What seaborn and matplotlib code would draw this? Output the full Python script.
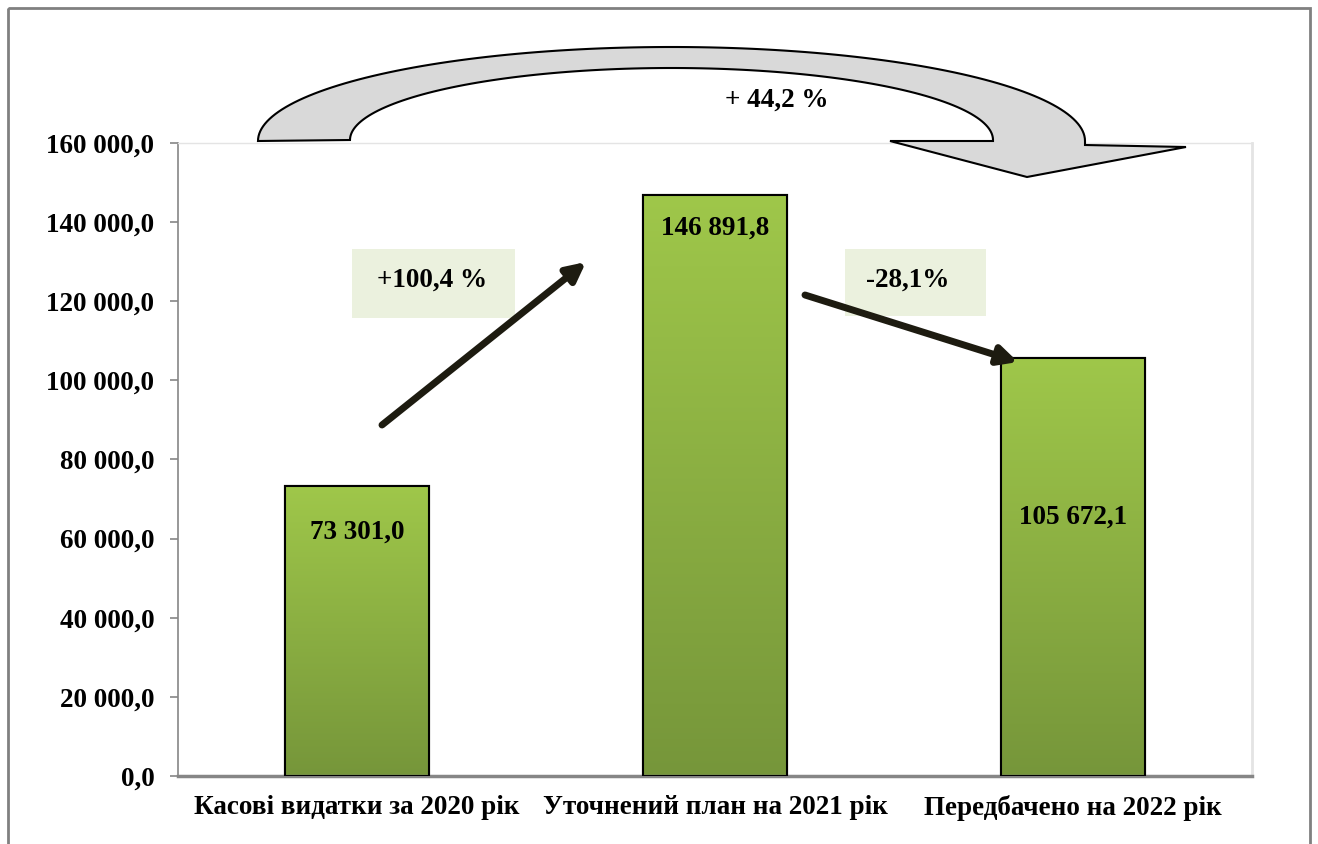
import numpy as np
import pandas as pd
import matplotlib
matplotlib.use("Agg")
import matplotlib.pyplot as plt
import seaborn as sns
from matplotlib.colors import LinearSegmentedColormap
from matplotlib.patches import Polygon, Rectangle

# data
categories = ["Касові видатки за 2020 рік", "Уточнений план на 2021 рік", "Передбачено на 2022 рік"]
values = [73301.0, 146891.8, 105672.1]
value_labels = ["73 301,0", "146 891,8", "105 672,1"]
yticks = [0, 20000, 40000, 60000, 80000, 100000, 120000, 140000, 160000]
change_labels = ["+100,4 %", "-28,1%"]
total_label = "+ 44,2 %"

# where the value labels sit inside the bars
label_pos = [61700, 138500, 65500]

sns.set_style("white")
plt.rcParams['font.family'] = ['Liberation Serif', 'DejaVu Serif']
plt.rcParams['font.weight'] = 'bold'
plt.rcParams['text.color'] = 'black'

df = pd.DataFrame({"cat": categories, "val": values})

fig = plt.figure(figsize=(13.18, 8.44), dpi=100)
ax = fig.add_axes([178/1318, 1-776/844, (1252-178)/1318, (776-143)/844])

sns.barplot(data=df, x="cat", y="val", width=0.4, color="#8db442",
            edgecolor="black", linewidth=1.5, ax=ax, zorder=2)

# gradient fill on the bars
cmap = LinearSegmentedColormap.from_list("g", ["#76963a", "#9fc74a"])
grad = np.linspace(0, 1, 256).reshape(-1, 1)
for p in ax.patches:
    x0, y0 = p.get_x(), p.get_y()
    w, h = p.get_width(), p.get_height()
    im = ax.imshow(grad, cmap=cmap, origin="lower", aspect="auto",
                   extent=[x0, x0 + w, y0, y0 + h], zorder=2.5)
    im.set_clip_path(p)
    edge = Rectangle((x0, y0), w, h, fill=False, edgecolor="black", lw=1.5, zorder=3)
    ax.add_patch(edge)

for i, (lab, ly) in enumerate(zip(value_labels, label_pos)):
    ax.text(i, ly, lab, ha="center", va="center", fontsize=19.5,
            fontweight="bold", color="black", zorder=4)

ax.set_xlim(-0.5, 2.5)
ax.set_ylim(0, 160000)
ax.set_yticks(yticks)
ax.set_yticklabels([f"{v:,.1f}".replace(",", " ").replace(".", ",") for v in yticks],
                   fontsize=19.5, fontweight="bold")
ax.set_xticks(range(3))
ax.set_xticklabels(categories, fontsize=19.5, fontweight="bold")
ax.set_xticks([-0.5, 0.5, 1.5, 2.5], minor=True)
ax.tick_params(axis="x", which="major", length=0, pad=14, labelcolor="black")
ax.tick_params(axis="x", which="minor", length=6, width=1.2, color="#868686")
ax.tick_params(axis="y", length=6, width=1.2, color="#868686", pad=11, left=True, labelcolor="black")
ax.set_xlabel("")
ax.set_ylabel("")
for s in ["left", "bottom"]:
    ax.spines[s].set_color("#868686")
ax.spines["left"].set_linewidth(1.2)
ax.spines["bottom"].set_linewidth(2.5)
for s in ["top", "right"]:
    ax.spines[s].set_color("#e4e4e4")
    ax.spines[s].set_linewidth(1)
ax.spines["right"].set_linewidth(2)

# overlay in pixel coordinates for the decorations
ov = fig.add_axes([0, 0, 1, 1], zorder=5)
ov.set_xlim(0, 1318)
ov.set_ylim(844, 0)
ov.axis("off")
ov.patch.set_alpha(0)

ov.add_patch(Rectangle((8, 8), 1302, 860, fill=False, edgecolor="#808080", lw=2, clip_on=False))

# boxes for the changes
ov.add_patch(Rectangle((352, 249), 163, 69, facecolor="#ebf1de", edgecolor="none"))
ov.add_patch(Rectangle((845, 249), 141, 67, facecolor="#ebf1de", edgecolor="none"))
ov.text(432, 280, change_labels[0], ha="center", va="center", fontsize=19.5, fontweight="bold")
ov.text(908, 280, change_labels[1], ha="center", va="center", fontsize=19.5, fontweight="bold")

# straight arrows
arrow_kw = dict(arrowstyle="-|>", lw=5, color="#1d1b10", mutation_scale=28, shrinkA=0, shrinkB=0)
ov.annotate("", xy=(586, 262), xytext=(382, 425), arrowprops=arrow_kw)
ov.annotate("", xy=(1018, 362), xytext=(805, 295), arrowprops=arrow_kw)

# curved arrow
cx = 671.5
t = np.linspace(np.pi, 0, 120)
outer = np.column_stack([cx + 413.5 * np.cos(t), 141 - 94 * np.sin(t)])
inner = np.column_stack([cx + 321.5 * np.cos(t[::-1]), 140 - 72 * np.sin(t[::-1])])
head = np.array([[1085, 145], [1186, 147], [1027, 177], [890, 141], [993, 141]])
pts = np.vstack([outer, head, inner])
ov.add_patch(Polygon(pts, closed=True, facecolor="#d9d9d9", edgecolor="black", lw=1.5))
ov.text(777, 100, total_label, ha="center", va="center", fontsize=19.5, fontweight="bold")

fig.savefig("out.png", dpi=100)
